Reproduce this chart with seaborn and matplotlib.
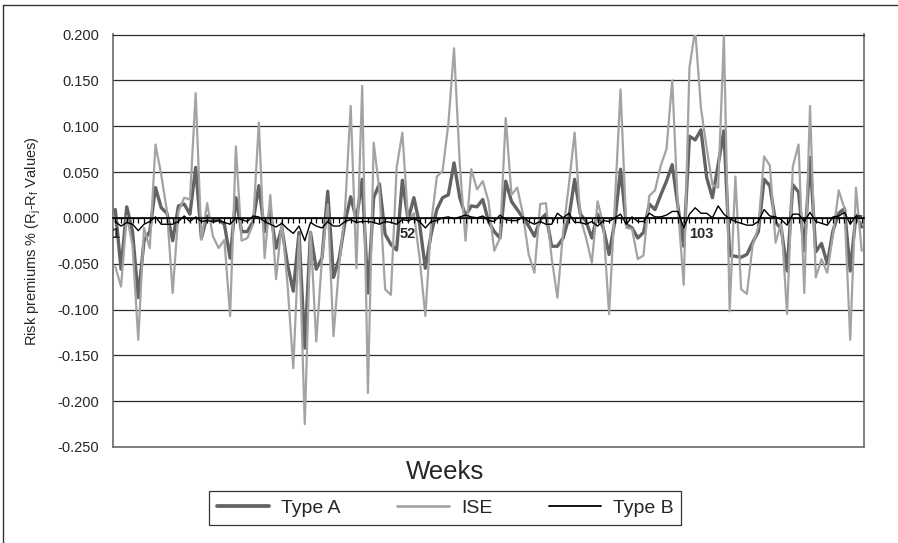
import numpy as np
import pandas as pd
import matplotlib
matplotlib.use("Agg")
import matplotlib.pyplot as plt
import seaborn as sns
from matplotlib.lines import Line2D

# ---------------- data ----------------
weeks = list(range(1, 132))

type_a = [
    0.009, -0.056, 0.012, -0.015, -0.087, -0.025, -0.015, 0.033, 0.011, 0.005,
    -0.025, 0.013, 0.015, 0.004, 0.055, -0.022, 0.002, -0.004, -0.002, -0.007,
    -0.044, 0.022, -0.015, -0.015, -0.004, 0.035, -0.015, 0.007, -0.033, -0.011,
    -0.051, -0.080, -0.016, -0.142, -0.016, -0.056, -0.044, 0.029, -0.065, -0.044,
    -0.005, 0.023, -0.002, 0.042, -0.082, 0.022, 0.037, -0.018, -0.029, -0.035,
    0.041, -0.002, 0.022, -0.007, -0.055, -0.018, 0.009, 0.022, 0.025, 0.060,
    0.022, 0.002, 0.013, 0.012, 0.020, -0.004, -0.015, -0.022, 0.040, 0.018,
    0.009, 0.000, -0.009, -0.020, -0.002, 0.004, -0.031, -0.031, -0.022, 0.000,
    0.042, 0.004, -0.004, -0.022, 0.004, -0.011, -0.040, -0.004, 0.053, -0.007,
    -0.011, -0.022, -0.016, 0.015, 0.009, 0.025, 0.040, 0.058, 0.012, -0.031,
    0.089, 0.085, 0.096, 0.044, 0.022, 0.058, 0.095, -0.041, -0.042, -0.043,
    -0.040, -0.027, -0.015, 0.042, 0.035, -0.005, -0.012, -0.058, 0.036, 0.028,
    -0.036, 0.066, -0.037, -0.028, -0.050, -0.014, 0.005, 0.010, -0.058, 0.003,
    -0.010,
]

ise = [
    -0.053, -0.075, 0.002, -0.030, -0.133, -0.011, -0.033, 0.080, 0.047, 0.007,
    -0.082, 0.007, 0.022, 0.020, 0.136, -0.024, 0.016, -0.020, -0.033, -0.024,
    -0.107, 0.078, -0.025, -0.022, -0.007, 0.104, -0.044, 0.025, -0.067, -0.004,
    -0.073, -0.164, -0.020, -0.225, -0.015, -0.135, -0.044, 0.015, -0.129, -0.051,
    0.007, 0.122, -0.055, 0.144, -0.191, 0.082, 0.030, -0.078, -0.084, 0.055,
    0.093, -0.004, 0.005, -0.044, -0.107, -0.007, 0.045, 0.051, 0.102, 0.185,
    0.058, -0.025, 0.053, 0.031, 0.040, 0.018, -0.036, -0.022, 0.109, 0.025,
    0.033, 0.004, -0.040, -0.060, 0.015, 0.016, -0.044, -0.087, -0.015, 0.036,
    0.093, 0.000, -0.022, -0.049, 0.018, -0.007, -0.105, 0.015, 0.140, -0.011,
    -0.012, -0.045, -0.041, 0.024, 0.030, 0.057, 0.075, 0.150, 0.010, -0.073,
    0.164, 0.205, 0.120, 0.076, 0.036, 0.033, 0.198, -0.102, 0.045, -0.078,
    -0.083, -0.030, -0.010, 0.067, 0.057, -0.027, -0.005, -0.105, 0.056, 0.080,
    -0.082, 0.122, -0.065, -0.045, -0.060, -0.018, 0.030, 0.010, -0.133, 0.033,
    -0.036,
]

type_b = [
    -0.004, -0.009, -0.005, -0.007, -0.014, -0.007, -0.004, 0.001, -0.007, -0.007,
    -0.007, -0.004, 0.002, -0.004, 0.001, -0.004, -0.003, -0.004, -0.003, -0.005,
    -0.007, 0.000, -0.002, -0.004, 0.002, 0.001, -0.004, -0.007, -0.010, -0.006,
    -0.012, -0.017, -0.009, -0.025, -0.005, -0.009, -0.011, -0.004, -0.009, -0.009,
    -0.004, -0.002, -0.005, -0.004, -0.004, -0.005, -0.007, -0.004, -0.005, -0.007,
    -0.002, -0.003, -0.001, -0.004, -0.011, -0.004, -0.003, 0.000, 0.001, -0.001,
    0.001, 0.003, 0.001, 0.000, 0.002, -0.003, -0.004, 0.003, -0.002, -0.003,
    -0.003, 0.001, -0.004, -0.007, -0.004, -0.007, -0.007, 0.005, 0.000, 0.005,
    -0.005, -0.005, -0.007, -0.004, -0.009, -0.003, -0.004, 0.000, 0.004, -0.007,
    0.001, -0.004, -0.004, 0.005, 0.001, 0.001, 0.003, 0.007, 0.007, -0.011,
    0.004, 0.011, 0.005, 0.005, 0.000, 0.013, 0.004, -0.001, -0.004, -0.006,
    -0.008, -0.008, -0.004, 0.009, 0.002, 0.001, -0.002, -0.008, 0.004, 0.004,
    -0.004, 0.006, -0.004, -0.006, -0.008, 0.001, 0.002, 0.006, -0.007, 0.002,
    0.002,
]

series_names = ["Type A", "ISE", "Type B"]
x_tick_labels = ["1", "52", "103"]
y_ticks = [0.200, 0.150, 0.100, 0.050, 0.000, -0.050, -0.100, -0.150, -0.200, -0.250]

df = pd.DataFrame({"Week": weeks, "Type A": type_a, "ISE": ise, "Type B": type_b})
long = df.melt(id_vars="Week", var_name="Series", value_name="Value")

# ---------------- style ----------------
sns.set_style("white")
plt.rcParams["font.family"] = ["Liberation Sans", "DejaVu Sans"]
plt.rcParams["mathtext.fontset"] = "custom"
plt.rcParams["mathtext.rm"] = "Liberation Sans"
plt.rcParams["mathtext.it"] = "Liberation Sans"

fig = plt.figure(figsize=(8.98, 5.43), dpi=100)
ax = fig.add_axes([113 / 898, 1 - 447 / 543, (864 - 113) / 898, (447 - 34.5) / 543])

palette = {"Type A": "#636363", "ISE": "#a3a3a3", "Type B": "#000000"}
widths = {"Type A": 2.4, "ISE": 1.6, "Type B": 1.0}

for name in series_names:
    sub = long[long["Series"] == name]
    sns.lineplot(data=sub, x="Week", y="Value", ax=ax, color=palette[name],
                 linewidth=widths[name], legend=False, zorder=3)

ax.set_xlim(0.6, 131.4)
ax.set_ylim(-0.25, 0.20)

# gridlines
ax.set_yticks(y_ticks)
ax.set_yticklabels([f"{v:.3f}" for v in y_ticks], fontsize=10.5)
ax.yaxis.grid(True, color="#2a2a2a", linewidth=0.9)
ax.set_axisbelow(True)
ax.tick_params(axis="y", length=3, width=0.9, color="#555555", pad=7, direction="out")

# main bottom axis: no ticks
ax.set_xticks([])
ax.set_xlabel("")
ax.set_ylabel("Risk premiums % (R$_{j}$-R$_{f}$ Values)", fontsize=10.5, labelpad=10)

for side in ["left", "right", "bottom"]:
    ax.spines[side].set_color("#6a6a6a")
    ax.spines[side].set_linewidth(1.2)
ax.spines["top"].set_color("#2a2a2a")
ax.spines["top"].set_linewidth(0.9)

# category axis crossing at zero
zero_frac = (0 - (-0.25)) / (0.20 - (-0.25))
sec = ax.secondary_xaxis(zero_frac)
sec.set_alignment("bottom")
sec.set_zorder(4)
sec.spines["bottom"].set_color("black")
sec.spines["bottom"].set_linewidth(1.2)
sec.set_xticks([1, 52, 103])
sec.set_xticklabels(x_tick_labels, fontsize=10.5, fontweight="bold")
sec.set_xticks(weeks, minor=True)
sec.tick_params(axis="x", which="both", length=3.5, width=0.9, direction="out",
                pad=3, color="black")
for lbl in sec.get_xticklabels():
    lbl.set_x(lbl.get_position()[0])

# axis title
fig.text(445 / 898, 1 - 472 / 543, "Weeks", ha="center", va="center", fontsize=18.5)

# legend
handles = [Line2D([], [], color=palette[n], linewidth=widths[n] + 0.3) for n in series_names]
leg = fig.legend(handles, series_names, loc="center", bbox_to_anchor=(445 / 898, 1 - 508 / 543),
                 ncol=3, fontsize=14, frameon=True, fancybox=False, shadow=False,
                 handlelength=2.7, handletextpad=0.6, columnspacing=2.9,
                 borderpad=0.4, borderaxespad=0)
leg.get_frame().set_edgecolor("black")
leg.get_frame().set_linewidth(0.9)

# outer chart frame (left and top)
fig.add_artist(Line2D([3 / 898, 3 / 898], [0, 1 - 5 / 543], transform=fig.transFigure,
                      color="#333333", linewidth=1.0))
fig.add_artist(Line2D([3 / 898, 1], [1 - 5 / 543, 1 - 5 / 543], transform=fig.transFigure,
                      color="#333333", linewidth=1.0))

fig.savefig("out.png", dpi=100)
